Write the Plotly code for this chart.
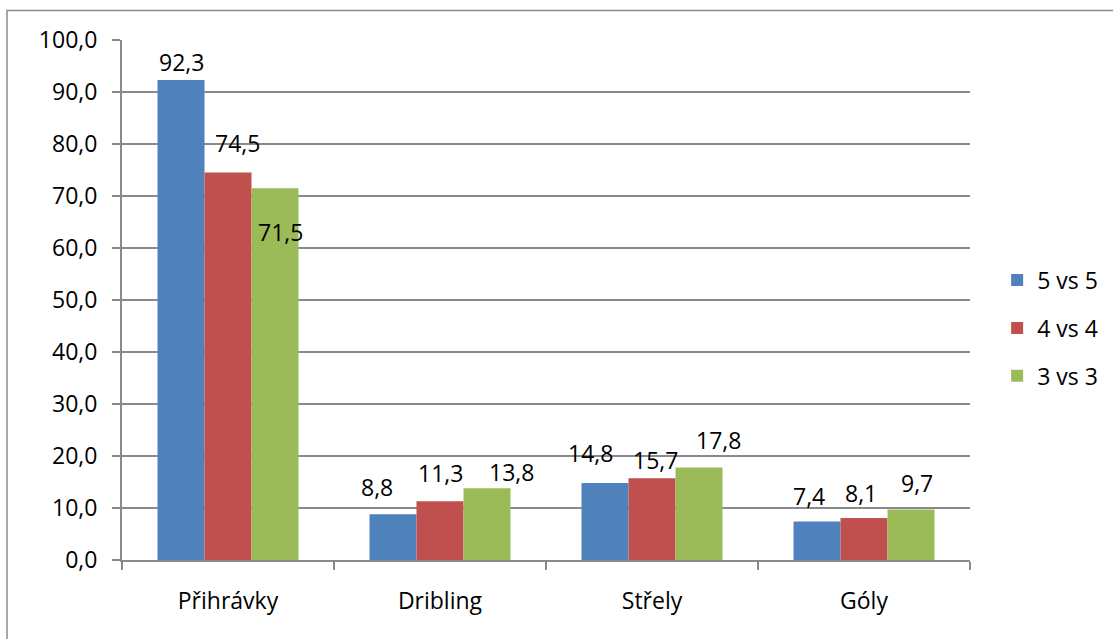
import plotly.graph_objects as go

categories = ["Přihrávky", "Dribling", "Střely", "Góly"]
series_names = ["5 vs 5", "4 vs 4", "3 vs 3"]
vals_5v5 = [92.3, 8.8, 14.8, 7.4]
vals_4v4 = [74.5, 11.3, 15.7, 8.1]
vals_3v3 = [71.5, 13.8, 17.8, 9.7]
y_ticks = [0, 10, 20, 30, 40, 50, 60, 70, 80, 90, 100]

colors = ["#4F81BD", "#C0504D", "#9BBB59"]
# pixel nudges of the data labels (dx, dy) relative to bar top centre
nudge_5v5 = [(0, 18), (-16, 27), (-15, 30), (-8, 26)]
nudge_4v4 = [(9, 30), (0, 28), (3, 18), (-3, 25)]
nudge_3v3 = [(6, -44), (25, 16), (20, 27), (6, 27)]

FONT = "Open Sans"
FS = 23
GRID = "#8a8a8a"
BARGAP = 0.335

all_vals = [vals_5v5, vals_4v4, vals_3v3]
all_nudges = [nudge_5v5, nudge_4v4, nudge_3v3]

fig = go.Figure()
for i, (name, vals) in enumerate(zip(series_names, all_vals)):
    fig.add_trace(go.Bar(
        x=categories, y=vals, name=name,
        marker=dict(color=colors[i], line=dict(width=0)),
        legendgroup=name,
    ))

barw = (1 - BARGAP) / len(series_names)
annotations = []
for si, (vals, nudges) in enumerate(zip(all_vals, all_nudges)):
    for ci, v in enumerate(vals):
        dx, dy = nudges[ci]
        annotations.append(dict(
            x=ci + (si - 1) * barw, y=v, xref="x", yref="y",
            text=f"{v:.1f}".replace(".", ","), showarrow=False,
            xshift=dx, yshift=dy, xanchor="center", yanchor="middle",
            font=dict(family=FONT, size=FS, color="#000000"),
        ))

fig.update_layout(
    width=1113, height=639,
    margin=dict(l=122, r=143, t=40, b=79, autoexpand=False),
    paper_bgcolor="white", plot_bgcolor="white",
    barmode="group", bargap=BARGAP, bargroupgap=0,
    separators=", ",
    font=dict(family=FONT, size=FS, color="#000000"),
    showlegend=True,
    legend=dict(x=1.032, y=0.446, xanchor="left", yanchor="middle",
                traceorder="grouped", tracegroupgap=15,
                font=dict(family=FONT, size=FS, color="#000000"),
                itemwidth=30, bgcolor="rgba(0,0,0,0)"),
    annotations=annotations,
    shapes=[dict(type="rect", xref="paper", yref="paper",
                 x0=(7 - 122) / 848, x1=(1125 - 122) / 848,
                 y0=(560 - 650) / 520, y1=(560 - 10.5) / 520,
                 line=dict(color="#8c8c8c", width=1.5), fillcolor="rgba(0,0,0,0)",
                 layer="below")],
)
fig.update_xaxes(
    type="category", showgrid=False, showline=True, linecolor=GRID, linewidth=2,
    ticks="outside", tickson="boundaries", ticklen=8, tickcolor=GRID, tickwidth=2,
    ticklabelstandoff=19,
    tickfont=dict(family=FONT, size=FS, color="#000000"),
)
fig.update_yaxes(
    range=[0, 100], tickvals=y_ticks, tickformat=".1f",
    showgrid=True, gridcolor=GRID, gridwidth=2,
    showline=True, linecolor=GRID, linewidth=2,
    ticks="outside", ticklen=8, tickcolor=GRID, tickwidth=2,
    ticklabelstandoff=10, zeroline=False,
    tickfont=dict(family=FONT, size=FS, color="#000000"),
)

fig.write_html("out.html")
